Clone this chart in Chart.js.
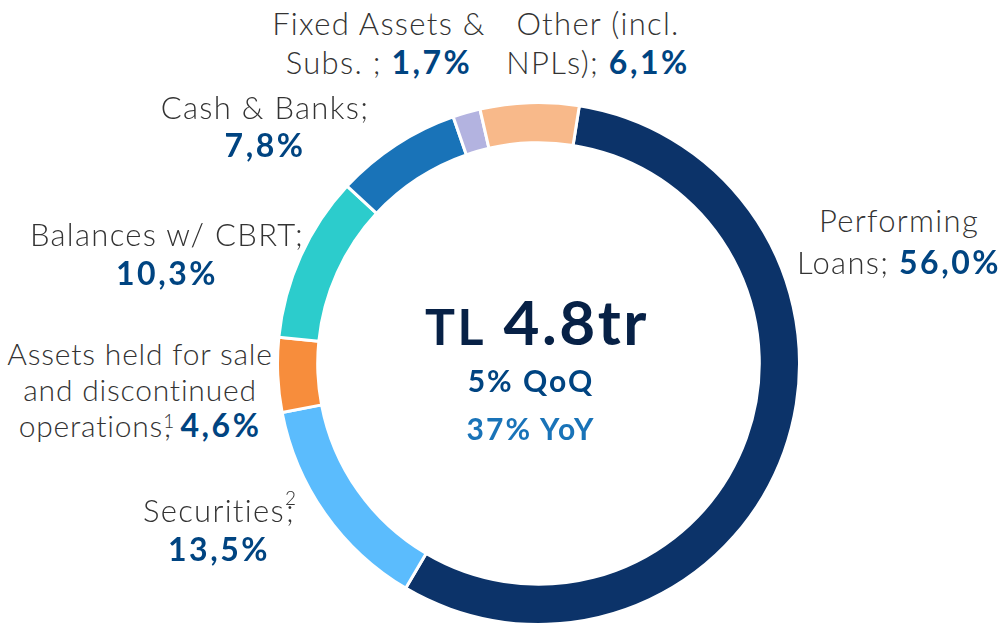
<!DOCTYPE html>
<html>
<head>
<meta charset="utf-8">
<script src="https://cdn.jsdelivr.net/npm/chart.js@4.4.1/dist/chart.umd.min.js"></script>
<style>
	body { margin: 0; width: 1008px; height: 623px; overflow: hidden; background: #fff; position: relative; font-family: Lato, "Open Sans", sans-serif; }
	#chart-wrap { position: absolute; left: 276px; top: 101px; width: 525px; height: 525px; }
	.lbl { position: absolute; white-space: nowrap; transform: translateX(-50%); font-weight: 300; color: #333; }
	.lbl b { color: #004481; font-weight: 700; font-size: 32px; letter-spacing: 2.5px; }
	.lbl sup { font-size: 19px; line-height: 0; vertical-align: 0; position: relative; letter-spacing: 0; margin-right: -10px; }
	.lbl sup.s1 { top: -9px; }
	.lbl sup.s2 { top: -17px; }
	.mid { position: absolute; white-space: nowrap; transform: translateX(-50%); font-weight: 700; }
</style>
</head>
<body>
<div id="chart-wrap"><canvas id="donut"></canvas></div>
<div id="labels"></div>
<script>
// data
const segmentNames = ["Performing Loans", "Securities", "Assets held for sale and discontinued operations", "Balances w/ CBRT", "Cash & Banks", "Fixed Assets & Subs.", "Other (incl. NPLs)"];
const shareValues = [56.0, 13.5, 4.6, 10.3, 7.8, 1.7, 6.1];
const segmentColors = ["#0c3369", "#5bbcfd", "#f78d3c", "#2ccccc", "#1973b8", "#b3b3e0", "#f8b98a"];

//* label lines per segment, {v} gets the bold share value
const labelLines = [
	["Performing", "Loans; {v}"],
	['Securities<sup class="s2">2</sup>;', "{v}"],
	["Assets held for sale", "and discontinued", 'operations<sup class="s1">1</sup>, {v}'],
	["Balances w/ CBRT;", "{v}"],
	["Cash &amp; Banks;", "{v}"],
	["Fixed Assets &amp;", "Subs. ; {v}"],
	["Other (incl.", "NPLs); {v}"],
];
// [center x, first baseline, line gap, font size, letter spacing]
const labelPos = [
	[899, 232, 41, 31, 1.3],
	[219, 522, 38, 31, 1.3],
	[140, 365, 36, 30, 0.8],
	[167, 246, 38, 31, 1.3],
	[265, 119, 37, 31, 1.3],
	[379, 35, 38, 31, 1.3],
	[598, 35, 38, 31, 1.3],
];

const centerTitle = "4.8tr";
const centerLines = ["5% QoQ", "37% YoY"];

function fmtShare(v) {
	return v.toFixed(1).replace(".", ",") + "%";
}

//* lato: baseline sits ~0.887em below the top of a line-height:1 box
function placeText(html, cx, baseline, size, cls, extraStyle) {
	const d = document.createElement("div");
	d.className = cls;
	d.innerHTML = html;
	d.style.left = cx + "px";
	d.style.top = (baseline - 0.887 * size) + "px";
	d.style.fontSize = size + "px";
	d.style.lineHeight = size + "px";
	if (extraStyle) d.style.cssText += extraStyle;
	document.getElementById("labels").appendChild(d);
}

labelLines.forEach(function (lines, i) {
	const [cx, y0, gap, size, ls] = labelPos[i];
	lines.forEach(function (line, j) {
		const html = line.replace("{v}", "<b>" + fmtShare(shareValues[i]) + "</b>");
		placeText(html, cx, y0 + j * gap, size, "lbl", "letter-spacing:" + ls + "px;");
	});
});

placeText('<span style="font-size:50px">TL</span> ' + centerTitle, 537, 345, 62, "mid", "color:#072146;letter-spacing:2.5px;");
placeText(centerLines[0], 531, 392, 30, "mid", "color:#004481;letter-spacing:2px;");
placeText(centerLines[1], 531, 440, 30, "mid", "color:#1973b8;letter-spacing:2px;");

const config = {
	type: "doughnut",
	data: {
		labels: segmentNames,
		datasets: [
			{
				data: shareValues,
				backgroundColor: segmentColors,
				borderColor: "#ffffff",
				borderWidth: 3,
			},
		],
	},
	options: {
		responsive: true,
		maintainAspectRatio: false,
		animation: false,
		events: [],
		rotation: 9,
		cutout: "84.6%",
		layout: { padding: 0 },
		plugins: {
			legend: { display: false },
			tooltip: { enabled: false },
		},
	},
};

var chart = new Chart(document.getElementById("donut"), config);
</script>
</body>
</html>
